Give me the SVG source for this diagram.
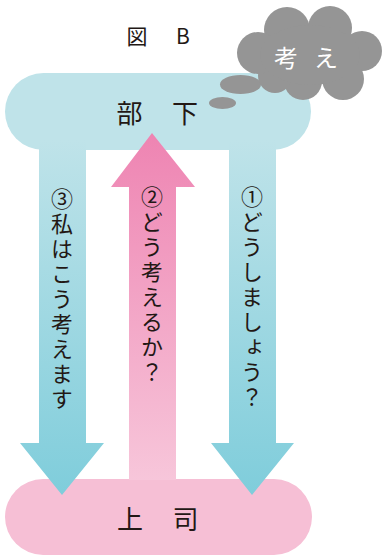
<svg xmlns="http://www.w3.org/2000/svg" width="382" height="558" viewBox="0 0 382 558">
<style>
.t{font-family:"Noto Sans CJK JP","Noto Sans",sans-serif;fill:#231815}
.v{font-family:"Noto Sans CJK JP",sans-serif;font-size:22px;fill:#231815;writing-mode:vertical-rl;letter-spacing:3px}
.cl{fill:#959595}
.w{font-family:"Noto Sans CJK JP",sans-serif;font-size:24px;fill:#fff}
</style>
<defs>
<linearGradient id="gb" x1="0" y1="0" x2="0" y2="1">
<stop offset="0" stop-color="#bfe3e9"/>
<stop offset="1" stop-color="#7fcddb"/>
</linearGradient>
<linearGradient id="gp" x1="0" y1="0" x2="0" y2="1">
<stop offset="0" stop-color="#ee84b2"/>
<stop offset="1" stop-color="#f7c6da"/>
</linearGradient>
</defs>
<rect width="382" height="558" fill="#fff"/>
<g id="title">
<text class="t" x="137" y="44" font-size="21" text-anchor="middle">図</text>
<text class="t" x="183" y="44" font-size="21" text-anchor="middle">B</text>
</g>
<g id="buka">
<rect x="5" y="73" width="306" height="77" rx="38.5" fill="#bfe3e9"/>
</g>
<g id="joshi">
<rect x="5" y="479" width="307" height="76" rx="38" fill="#f6bfd5"/>
</g>
<g id="connectors">
<path d="M39 140H86V443H104L62 495L20 443H39Z" fill="url(#gb)"/>
<path d="M229 140H276V443H294L252 495L211 443H229Z" fill="url(#gb)"/>
<path d="M152 133L195 187H176V480H129V187H111Z" fill="url(#gp)"/>
<text class="v" x="62" y="188">③私はこう考えます</text>
<text class="v" x="152" y="186">②どう考えるか？</text>
<text class="v" x="252" y="186">①どうしましょう？</text>
</g>
<g id="buka-label">
<text class="t" x="129.5" y="123" font-size="26" text-anchor="middle">部</text>
<text class="t" x="185" y="123" font-size="26" text-anchor="middle">下</text>
</g>
<g id="joshi-label">
<text class="t" x="130" y="529" font-size="26" text-anchor="middle">上</text>
<text class="t" x="185.5" y="529" font-size="26" text-anchor="middle">司</text>
</g>
<g id="cloud">
<ellipse class="cl" cx="222.5" cy="103" rx="13.5" ry="6"/>
<ellipse class="cl" cx="240.5" cy="84.5" rx="20.5" ry="9.5"/>
<circle class="cl" cx="287" cy="30" r="23"/>
<circle class="cl" cx="330" cy="28" r="22"/>
<circle class="cl" cx="362" cy="51" r="20"/>
<circle class="cl" cx="343" cy="79" r="21"/>
<circle class="cl" cx="303" cy="81" r="19"/>
<circle class="cl" cx="275" cy="76" r="17"/>
<circle class="cl" cx="258" cy="53" r="21"/>
<ellipse class="cl" cx="310" cy="55" rx="50" ry="30"/>
<text class="w" x="286" y="67" text-anchor="middle">考</text>
<text class="w" x="326" y="67" text-anchor="middle">え</text>
</g>
</svg>
